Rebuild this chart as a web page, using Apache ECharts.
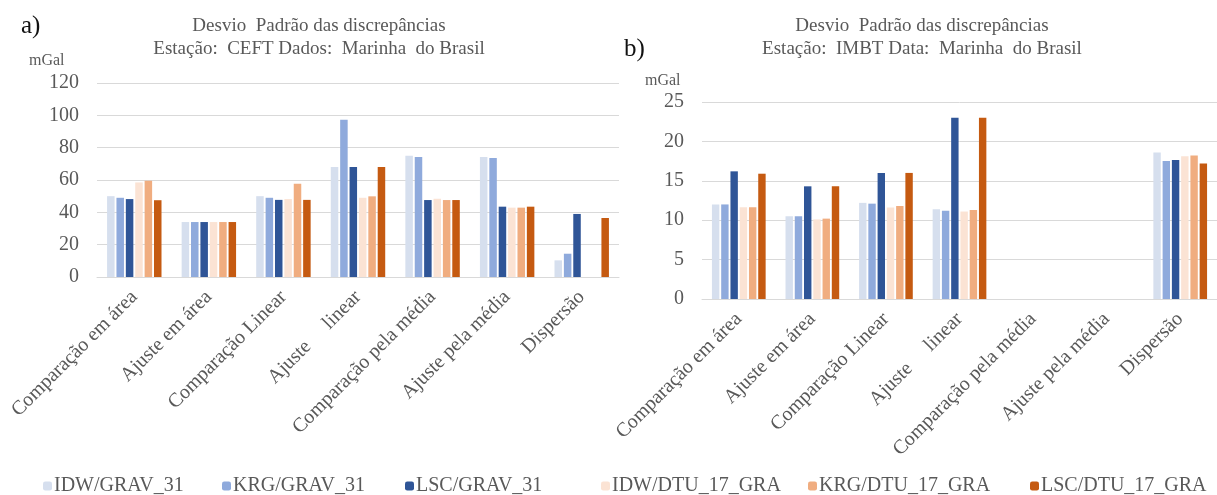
<!DOCTYPE html>
<html>
<head>
    <meta charset="utf-8">
    <script src="https://cdn.jsdelivr.net/npm/echarts@6/dist/echarts.min.js"></script>
</head>
<body style="margin:0">
    <div id="main" style="width: 1217px;height:495px;"></div>
    <script>
        // categorias (eixo x) - mesmas nos dois graficos
        const categories = ['Comparação em área', 'Ajuste em área', 'Comparação Linear', 'Ajuste     linear',
            'Comparação pela média', 'Ajuste pela média', 'Dispersão'];
        const seriesNames = ['IDW/GRAV_31', 'KRG/GRAV_31', 'LSC/GRAV_31', 'IDW/DTU_17_GRA', 'KRG/DTU_17_GRA', 'LSC/DTU_17_GRA'];

        // a) estacao CEFT
        const idwGrav_a = [50, 34, 50, 68, 75, 74.2, 10.3];
        const krgGrav_a = [49, 34, 49, 97.3, 74.2, 73.6, 14.4];
        const lscGrav_a = [48.2, 34, 47.7, 68, 47.6, 43.5, 39];
        const idwDtu_a = [58.5, 34, 48.2, 49, 48.4, 42.9, null];
        const krgDtu_a = [59.6, 34, 57.7, 49.9, 47.6, 42.9, null];
        const lscDtu_a = [47.5, 34, 47.7, 68, 47.6, 43.5, 36.5];

        // b) estacao IMBT
        const idwGrav_b = [12, 10.5, 12.2, 11.4, null, null, 18.6];
        const krgGrav_b = [12, 10.5, 12.1, 11.2, null, null, 17.5];
        const lscGrav_b = [16.2, 14.3, 16, 23, null, null, 17.65];
        const idwDtu_b = [11.65, 10.1, 11.6, 11.1, null, null, 18.1];
        const krgDtu_b = [11.65, 10.2, 11.8, 11.3, null, null, 18.2];
        const lscDtu_b = [15.9, 14.3, 16, 23, null, null, 17.2];

        const yTicksA = [0, 20, 40, 60, 80, 100, 120];
        const yTicksB = [0, 5, 10, 15, 20, 25];

        const colors = ['#D6DFEE', '#8FAADC', '#2F5597', '#FBE3D4', '#F0AD80', '#C55A11'];
        const font = '"Liberation Serif", "Times New Roman", serif';
        const grey = '#595959';

        const dataA = [idwGrav_a, krgGrav_a, lscGrav_a, idwDtu_a, krgDtu_a, lscDtu_a];
        const dataB = [idwGrav_b, krgGrav_b, lscGrav_b, idwDtu_b, krgDtu_b, lscDtu_b];

        const legendX = [43, 222, 405, 601, 808, 1030];

        myChart = echarts.init(document.getElementById('main'));

        function xAxisFor(idx) {
            return {
                type: 'category',
                gridIndex: idx,
                data: categories,
                axisLine: { lineStyle: { color: '#D9D9D9' } },
                axisTick: { show: false },
                axisLabel: {
                    interval: 0,
                    rotate: 45,
                    margin: 17,
                    fontFamily: font,
                    fontSize: 20,
                    color: grey
                }
            };
        }

        function yAxisFor(idx, ticks) {
            return {
                type: 'value',
                gridIndex: idx,
                min: ticks[0],
                max: ticks[ticks.length - 1],
                interval: ticks[1] - ticks[0],
                axisLine: { show: false },
                axisTick: { show: false },
                splitLine: { lineStyle: { color: '#D9D9D9' } },
                axisLabel: {
                    margin: 18,
                    fontFamily: font,
                    fontSize: 20,
                    color: grey
                }
            };
        }

        series = [];
        for (i = 0; i < seriesNames.length; ++i) {
            series.push({
                name: seriesNames[i], type: 'bar', xAxisIndex: 0, yAxisIndex: 0,
                data: dataA[i], itemStyle: { color: colors[i] },
                barGap: '25%', barCategoryGap: '27%'
            });
        }
        for (i = 0; i < seriesNames.length; ++i) {
            series.push({
                name: seriesNames[i], type: 'bar', xAxisIndex: 1, yAxisIndex: 1,
                data: dataB[i], itemStyle: { color: colors[i] },
                barGap: '25%', barCategoryGap: '27%'
            });
        }

        legends = [];
        for (i = 0; i < seriesNames.length; ++i) {
            legends.push({
                data: [seriesNames[i]],
                left: legendX[i],
                top: 476,
                padding: 0,
                itemWidth: 9,
                itemHeight: 9,
                itemGap: 0,
                textStyle: { fontFamily: font, fontSize: 20, color: grey, padding: [0, 0, 0, -3] }
            });
        }

        const titleStyle = { fontFamily: font, fontSize: 19, fontWeight: 'normal', color: grey, lineHeight: 23 };

        option = {
            animation: false,
            backgroundColor: '#fff',
            title: [
                { text: 'Desvio  Padrão das discrepâncias\nEstação:  CEFT Dados:  Marinha  do Brasil', left: 314, top: 10, textAlign: 'center', textStyle: titleStyle },
                { text: 'Desvio  Padrão das discrepâncias\nEstação:  IMBT Data:  Marinha  do Brasil', left: 917, top: 10, textAlign: 'center', textStyle: titleStyle },
                { text: 'a)', left: 16, top: 9, textStyle: { fontFamily: font, fontSize: 25, fontWeight: 'normal', color: '#111' } },
                { text: 'b)', left: 619, top: 32, textStyle: { fontFamily: font, fontSize: 25, fontWeight: 'normal', color: '#111' } },
                { text: 'mGal', left: 24, top: 48, textStyle: { fontFamily: font, fontSize: 16, fontWeight: 'normal', color: grey } },
                { text: 'mGal', left: 640, top: 68, textStyle: { fontFamily: font, fontSize: 16, fontWeight: 'normal', color: grey } }
            ],
            legend: legends,
            grid: [
                { left: 97, top: 83, width: 522, height: 194 },
                { left: 702, top: 102, width: 521, height: 197 }
            ],
            xAxis: [xAxisFor(0), xAxisFor(1)],
            yAxis: [yAxisFor(0, yTicksA), yAxisFor(1, yTicksB)],
            series: series
        };

        myChart.setOption(option);
    </script>
</body>
</html>
